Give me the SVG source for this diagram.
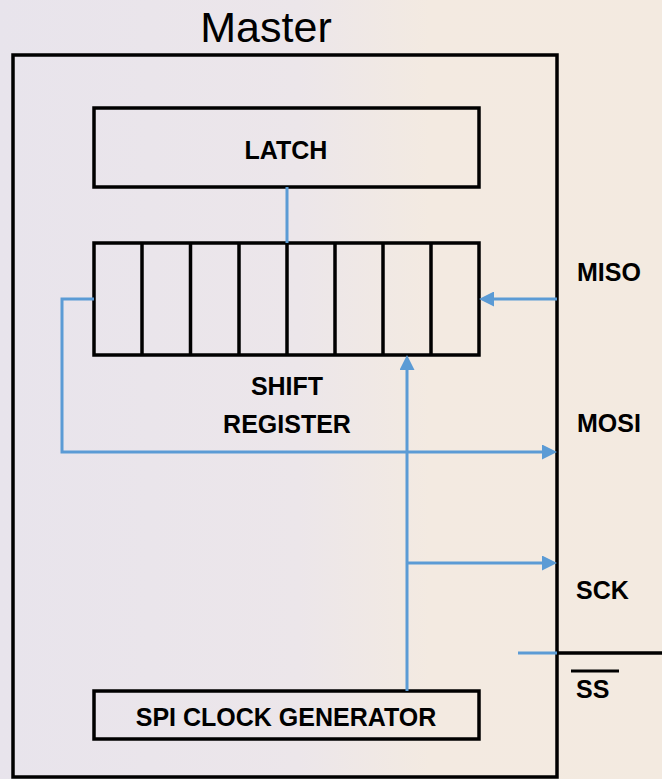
<svg xmlns="http://www.w3.org/2000/svg" width="662" height="779" viewBox="0 0 662 779">
<style>
.box{fill:none;stroke:#000;stroke-width:3.5}
.wire{fill:none;stroke:#5B9BD5;stroke-width:3}
.lbl{font-family:"Liberation Sans",Arial,sans-serif;font-weight:bold;font-size:25px;fill:#000}
.mid{text-anchor:middle}
</style>
<defs>
<linearGradient id="bg" x1="0" y1="0" x2="1" y2="0">
<stop offset="0" stop-color="#E8E4EC"/>
<stop offset="0.45" stop-color="#ECE6EA"/>
<stop offset="0.65" stop-color="#F3EAE1"/>
<stop offset="1" stop-color="#F3EAE0"/>
</linearGradient>
<marker id="arr" viewBox="0 0 15 15" refX="0" refY="7.5" markerWidth="15" markerHeight="15" markerUnits="userSpaceOnUse" orient="auto">
<path d="M0,0 L15,7.5 L0,15 z" fill="#5B9BD5"/>
</marker>
</defs>
<rect x="0" y="0" width="662" height="779" fill="url(#bg)"/>

<g id="master">
<text x="266" y="42" font-family="'Liberation Sans',Arial,sans-serif" font-size="43" text-anchor="middle" fill="#000">Master</text>
<rect class="box" x="13" y="55" width="544" height="722"/>
</g>

<g id="latch">
<rect class="box" x="94" y="108" width="385" height="79"/>
<text class="lbl mid" x="286" y="159">LATCH</text>
</g>

<g id="shift-register">
<rect class="box" x="94" y="243" width="385" height="112"/>
<path class="box" d="M142,243V355M190.5,243V355M239,243V355M287,243V355M335,243V355M383,243V355M431,243V355"/>
<text class="lbl mid" x="287" y="395">SHIFT</text>
<text class="lbl mid" x="287" y="433">REGISTER</text>
</g>

<g id="clock-gen">
<rect class="box" x="94" y="691" width="385" height="48"/>
<text class="lbl mid" x="286" y="726">SPI CLOCK GENERATOR</text>
</g>

<g id="miso"><text class="lbl" x="577" y="281">MISO</text></g>
<g id="mosi"><text class="lbl" x="577" y="432">MOSI</text></g>
<g id="sck"><text class="lbl" x="576" y="599">SCK</text></g>
<g id="ss">
<text class="lbl" x="576" y="698">SS</text>
<line x1="571" y1="671" x2="619" y2="671" stroke="#000" stroke-width="3"/>
<line x1="557" y1="653" x2="662" y2="653" stroke="#000" stroke-width="3.5"/>
</g>

<g id="connectors">
<line class="wire" x1="287" y1="187" x2="287" y2="243"/>
<line class="wire" x1="557" y1="299" x2="494" y2="299" marker-end="url(#arr)"/>
<polyline class="wire" points="94,299 62,299 62,452 542,452" marker-end="url(#arr)"/>
<line class="wire" x1="407" y1="691" x2="407" y2="370" marker-end="url(#arr)"/>
<line class="wire" x1="407" y1="563" x2="542" y2="563" marker-end="url(#arr)"/>
<line class="wire" x1="518" y1="653" x2="557" y2="653"/>
</g>
</svg>
